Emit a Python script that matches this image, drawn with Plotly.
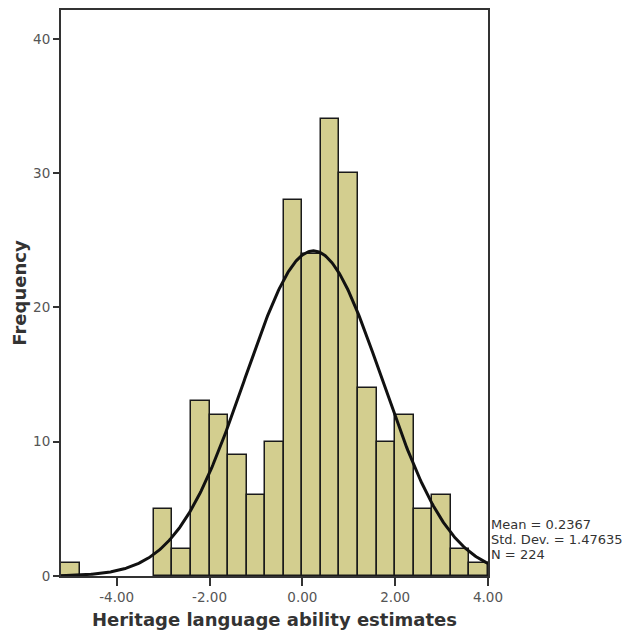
import numpy as np
import plotly.graph_objects as go

# Histogram bins (left edges, width 0.4) and frequencies
bin_left = [-5.2, -3.2, -2.8, -2.4, -2.0, -1.6, -1.2, -0.8, -0.4, 0.0,
            0.4, 0.8, 1.2, 1.6, 2.0, 2.4, 2.8, 3.2, 3.6]
counts = [1, 5, 2, 13, 12, 9, 6, 10, 28, 24, 34, 30, 14, 10, 12, 5, 6, 2, 1]
bin_width = 0.4

mean = 0.2367
std = 1.47635
n = 224

x_ticks = [-4, -2, 0, 2, 4]
y_ticks = [0, 10, 20, 30, 40]

centers = [b + bin_width / 2 for b in bin_left]

xs = np.linspace(-5.2, 4.0, 400)
ys = n * bin_width * np.exp(-0.5 * ((xs - mean) / std) ** 2) / (std * np.sqrt(2 * np.pi))

fig = go.Figure()
fig.add_trace(go.Bar(
    x=centers, y=counts, width=bin_width,
    marker=dict(color="#d3ce8f", line=dict(color="#1a1a1a", width=1.5)),
    hoverinfo="x+y", showlegend=False,
))
fig.add_trace(go.Scatter(
    x=xs, y=ys, mode="lines",
    line=dict(color="#111111", width=3),
    showlegend=False, hoverinfo="skip",
))

font_main = "DejaVu Sans, Verdana, sans-serif"

fig.update_layout(
    width=628, height=637,
    margin=dict(l=61, r=140, t=8, b=61),
    paper_bgcolor="white", plot_bgcolor="white",
    bargap=0,
    font=dict(family=font_main, color="#333333", size=13),
    xaxis=dict(
        range=[-5.2, 4.0],
        tickvals=x_ticks,
        ticktext=["%.2f" % v for v in x_ticks],
        ticks="outside", ticklen=8, tickwidth=2, tickcolor="#333333",
        showline=True, linecolor="#333333", linewidth=2, mirror=True,
        showgrid=False, zeroline=False,
        tickfont=dict(size=13.5, color="#555555"),
        title=dict(text="<b>Heritage language ability estimates</b>",
                   font=dict(size=18, color="#333333", family=font_main),
                   standoff=9),
    ),
    yaxis=dict(
        range=[0, 42.15],
        tickvals=y_ticks,
        ticks="outside", ticklen=6, tickwidth=2, tickcolor="#333333",
        showline=True, linecolor="#333333", linewidth=2, mirror=True,
        showgrid=False, zeroline=False,
        tickfont=dict(size=13.5, color="#555555"),
        title=dict(text="<b>Frequency</b>",
                   font=dict(size=18, color="#333333", family=font_main),
                   standoff=2),
    ),
)

stats = ["Mean = %.4f" % mean, "Std. Dev. = %.5f" % std, "N = %d" % n]
for i, s in enumerate(stats):
    fig.add_annotation(
        x=1.0, xref="paper", xanchor="left", xshift=1,
        y=(576 - 524 - 15 * i) / 568, yref="paper", yanchor="middle",
        text=s, showarrow=False,
        font=dict(size=13, color="#333333", family=font_main),
    )

fig.write_html("out.html")
